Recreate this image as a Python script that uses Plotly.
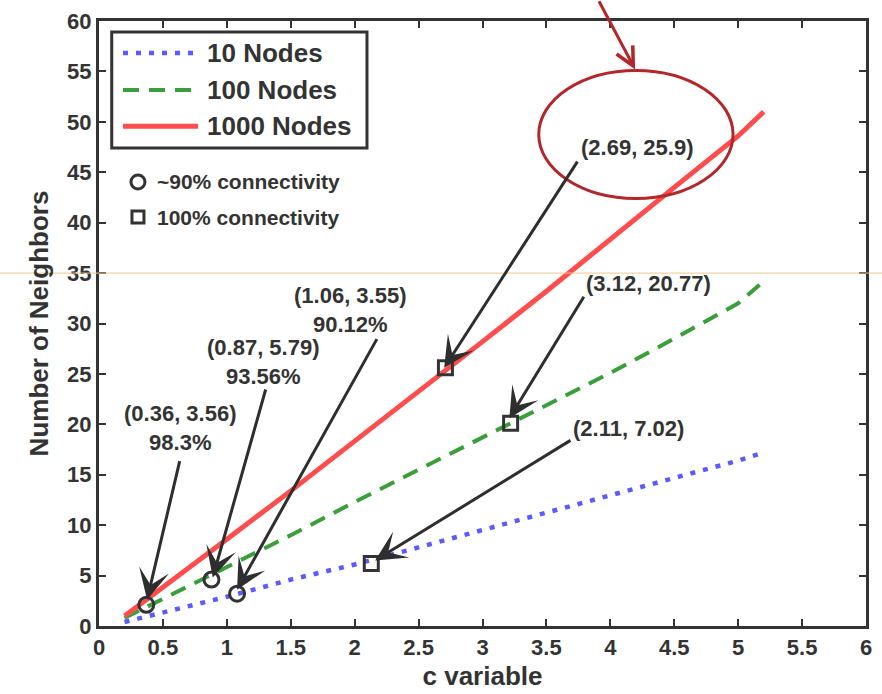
import plotly.graph_objects as go

# ---- data ----
c_vals = [0.2, 0.5, 1.0, 1.5, 2.0, 2.5, 3.0, 3.5, 4.0, 4.5, 5.0, 5.2]
nodes10 = [0.4, 1.3, 2.9, 4.6, 6.1, 7.8, 9.5, 11.2, 12.9, 14.6, 16.4, 17.2]
nodes100 = [0.8, 2.7, 5.8, 9.0, 12.3, 15.5, 18.7, 21.9, 25.1, 28.5, 32.0, 34.2]
nodes1000 = [1.0, 3.9, 8.6, 13.4, 18.3, 23.2, 28.2, 33.2, 38.4, 43.5, 48.6, 51.0]

circle_x = [0.37, 0.88, 1.08]
circle_y = [2.1, 4.6, 3.2]
square_x = [2.13, 3.22, 2.71]
square_y = [6.2, 20.1, 25.6]

series_names = ["10 Nodes", "100 Nodes", "1000 Nodes"]
series_colors = ["#5a5aff", "#3a9e3a", "#ff4d4d"]
series_dash = ["5px,8px", "16px,10px", "solid"]

# annotation labels: text, text position, arrow tail, arrow tip
ann_text = ["(0.36, 3.56)<br>98.3%", "(0.87, 5.79)<br>93.56%", "(1.06, 3.55)<br>90.12%",
            "(2.69, 25.9)", "(3.12, 20.77)", "(2.11, 7.02)"]
ann_text_x = [0.634, 1.283, 1.964, 4.21, 4.30, 4.14]
ann_text_y = [19.6, 26.2, 31.3, 47.5, 34.0, 19.6]
ann_tail_x = [0.634, 1.307, 2.18, 3.75, 3.80, 3.70]
ann_tail_y = [16.5, 23.6, 28.6, 46.2, 32.8, 18.5]
ann_tip_x = [0.376, 0.89, 1.08, 2.70, 3.21, 2.16]
ann_tip_y = [2.6, 4.8, 3.6, 25.6, 20.6, 6.5]

FONT = "Liberation Sans, Arial, sans-serif"
AXC = "#333333"
TXT = "#333333"

fig = go.Figure()
ys = [nodes10, nodes100, nodes1000]
widths = [4.5, 4, 5]
for name, yv, col, dash, w in zip(series_names, ys, series_colors, series_dash, widths):
    fig.add_trace(go.Scatter(x=c_vals, y=yv, mode="lines", name=name,
                             line=dict(color=col, width=w, dash=dash), showlegend=False))

fig.add_trace(go.Scatter(x=circle_x, y=circle_y, mode="markers", name="~90% connectivity",
                         marker=dict(symbol="circle-open", size=15, color=TXT,
                                     line=dict(width=3, color=TXT)), showlegend=False))
fig.add_trace(go.Scatter(x=square_x, y=square_y, mode="markers", name="100% connectivity",
                         marker=dict(symbol="square-open", size=14, color=TXT,
                                     line=dict(width=3, color=TXT)), showlegend=False))

annotations = []
for t, tx, ty, ax, ay, px, py in zip(ann_text, ann_text_x, ann_text_y, ann_tail_x, ann_tail_y, ann_tip_x, ann_tip_y):
    annotations.append(dict(x=px, y=py, xref="x", yref="y", ax=ax, ay=ay, axref="x", ayref="y",
                            text="", showarrow=True, arrowhead=3, arrowsize=1.7, arrowwidth=3,
                            arrowcolor="#2e2e2e", standoff=0, startstandoff=0))
    annotations.append(dict(x=tx, y=ty, xref="x", yref="y", text=t, showarrow=False,
                            font=dict(family=FONT, size=22, color=TXT, weight="bold"),
                            align="center"))

# red highlight arrow
annotations.append(dict(x=4.194, y=55.2, xref="x", yref="y", ax=3.905, ay=62.1, axref="x", ayref="y",
                        text="", showarrow=True, arrowhead=5, arrowsize=1.2, arrowwidth=3,
                        arrowcolor="#b3262a", standoff=0))

# manual legend
leg_y = [0.947, 0.886, 0.826]
shapes = [
    dict(type="rect", xref="paper", yref="paper", x0=0.0166, x1=0.3494, y0=0.790, y1=0.982,
         line=dict(color=AXC, width=3), fillcolor="white", layer="above"),
]
for name, col, dash, w, yy in zip(series_names, series_colors, series_dash, widths, leg_y):
    shapes.append(dict(type="line", xref="paper", yref="paper", x0=0.0313, x1=0.1291, y0=yy, y1=yy,
                       line=dict(color=col, width=w, dash=dash), layer="above"))
    annotations.append(dict(x=0.1382, y=yy, xref="paper", yref="paper", text=name, showarrow=False,
                            xanchor="left", yanchor="middle",
                            font=dict(family=FONT, size=26, color=TXT, weight="bold")))

# marker legend
shapes.append(dict(type="circle", xref="paper", yref="paper", xsizemode="pixel", ysizemode="pixel",
                   xanchor=0.0508, yanchor=0.734, x0=-7, x1=7, y0=-7, y1=7,
                   line=dict(color=TXT, width=3), layer="above"))
shapes.append(dict(type="rect", xref="paper", yref="paper", xsizemode="pixel", ysizemode="pixel",
                   xanchor=0.0508, yanchor=0.676, x0=-6, x1=6, y0=-6, y1=6,
                   line=dict(color=TXT, width=3), layer="above"))
annotations.append(dict(x=0.073, y=0.734, xref="paper", yref="paper", text="~90% connectivity",
                        showarrow=False, xanchor="left", yanchor="middle",
                        font=dict(family=FONT, size=21, color=TXT, weight="bold")))
annotations.append(dict(x=0.073, y=0.676, xref="paper", yref="paper", text="100% connectivity",
                        showarrow=False, xanchor="left", yanchor="middle",
                        font=dict(family=FONT, size=21, color=TXT, weight="bold")))

# red ellipse highlight
shapes.append(dict(type="circle", xref="x", yref="y", x0=3.44, x1=4.96, y0=42.4, y1=55.1,
                   line=dict(color="#b3262a", width=3), layer="above"))
# thin orange guide line across the page
shapes.append(dict(type="line", xref="paper", yref="paper", x0=-0.5, x1=1.5, y0=35 / 60, y1=35 / 60,
                   line=dict(color="#f2c98a", width=1), layer="above"))

axis_common = dict(showline=True, linecolor=AXC, linewidth=3, mirror="ticks", ticks="inside",
                   ticklen=7, tickwidth=2, tickcolor=AXC, showgrid=False, zeroline=False,
                   automargin=False,
                   tickfont=dict(family=FONT, size=22, color=TXT, weight="bold"))

fig.update_layout(
    width=882, height=694,
    margin=dict(l=99, r=16, t=21, b=68, autoexpand=False),
    plot_bgcolor="white", paper_bgcolor="white",
    xaxis=dict(range=[0, 6], dtick=0.5, tick0=0,
               title=dict(text="c variable", font=dict(family=FONT, size=26, color=TXT, weight="bold"), standoff=8),
               **axis_common),
    yaxis=dict(range=[0, 60], dtick=5, tick0=0,
               title=dict(text="Number of Neighbors", font=dict(family=FONT, size=26, color=TXT, weight="bold"), standoff=12),
               **axis_common),
    shapes=shapes,
    annotations=annotations,
    showlegend=False,
)

fig.write_html("out.html", config={"displayModeBar": False},
               post_script="document.body.style.margin='0';")
